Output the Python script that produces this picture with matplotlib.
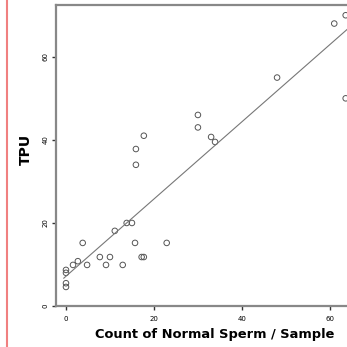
import numpy as np
import matplotlib.pyplot as plt

# count of normal sperm / sample vs TPU
sperm = [0, 0, 0, 0, 1.6, 2.7, 3.8, 4.8, 7.7, 9.1, 10, 11.1, 12.9, 13.8, 15,
         15.7, 17.2, 17.7, 22.9, 17.7, 15.9, 15.9, 30, 30, 33, 33.9, 48, 61,
         63.6, 63.6]
tpu = [8.7, 8.0, 5.5, 4.6, 9.9, 10.8, 15.2, 9.9, 11.8, 9.9, 11.8, 18.1, 9.9,
       20, 20, 15.2, 11.8, 11.8, 15.2, 41, 37.8, 34, 46, 43, 40.7, 39.5, 55,
       68, 70, 50]
xticks = [0, 20, 40, 60]
yticks = [0, 20, 40, 60]

fig = plt.figure(figsize=(3.47, 3.47), dpi=100)
ax = fig.add_axes([0.161, 0.118, 0.839, 0.868])

ax.scatter(sperm, tpu, s=16, facecolors='none', edgecolors='#555555', linewidths=0.7)

# linear fit line
b, a = np.polyfit(sperm, tpu, 1)
xs = np.array([-0.5, 64])
ax.plot(xs, a + b * xs, color='#777777', lw=0.8)

ax.set_xlim(-2.3, 63.9)
ax.set_ylim(0, 72.5)
ax.set_xticks(xticks)
ax.set_yticks(yticks)
ax.tick_params(labelsize=5, length=3, width=1, color='#333333')
ax.tick_params(axis='x', pad=4)
ax.tick_params(axis='y', pad=2)
for t in ax.get_yticklabels():
    t.set_rotation(90)
    t.set_va('center')

for s in ['left', 'bottom', 'top']:
    ax.spines[s].set_color('#888888')
    ax.spines[s].set_linewidth(1.6)
ax.spines['right'].set_visible(False)

ax.set_xlabel('Count of Normal Sperm / Sample', fontsize=9.4, fontweight='heavy')
ax.xaxis.set_label_coords(0.547, -0.072)
ax.set_ylabel('TPU', fontsize=10, fontweight='heavy')
ax.yaxis.set_label_coords(-0.079, 0.52)

# red margin line
fig.add_artist(plt.Line2D([0.019, 0.019], [0, 1], color='#f08080', lw=1.5))

fig.savefig('out.png', dpi=100)
